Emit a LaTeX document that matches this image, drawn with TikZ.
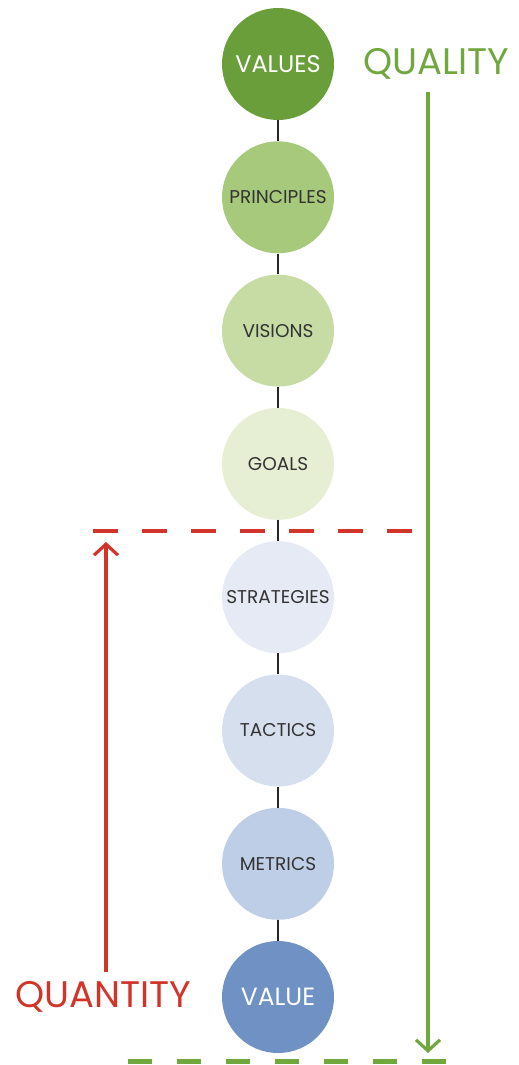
\documentclass[tikz,border=0pt]{standalone}
\usepackage{fontspec}
\setmainfont{Poppins}
\usetikzlibrary{arrows.meta}

\definecolor{qualgreen}{RGB}{112,168,62}
\definecolor{quantred}{RGB}{210,52,42}
\definecolor{c1}{RGB}{106,158,58}
\definecolor{c2}{RGB}{166,201,124}
\definecolor{c3}{RGB}{198,220,164}
\definecolor{c4}{RGB}{230,238,211}
\definecolor{c5}{RGB}{229,234,244}
\definecolor{c6}{RGB}{214,223,238}
\definecolor{c7}{RGB}{191,206,231}
\definecolor{c8}{RGB}{111,145,196}

\tikzset{
  stage/.style={circle, minimum size=112pt, inner sep=0pt, font=\fontsize{18.5}{18.5}\selectfont, text=black!80},
  link/.style={line width=1.6pt, black!85},
  bigword/.style={font=\fontsize{37}{37}\selectfont}
}

\begin{document}
\begin{tikzpicture}[x=1pt,y=-1pt]
\useasboundingbox (0,0) rectangle (519,1065);
% the stages, top to bottom
\node[stage, fill=c1, text=white, font=\fontsize{24}{24}\selectfont] (values) at (278,64) {VALUES};
\node[stage, fill=c2] (principles) at (278,197.3) {PRINCIPLES};
\node[stage, fill=c3] (visions) at (278,330.6) {VISIONS};
\node[stage, fill=c4] (goals) at (278,463.9) {GOALS};
\node[stage, fill=c5] (strategies) at (278,597.2) {STRATEGIES};
\node[stage, fill=c6] (tactics) at (278,730.5) {TACTICS};
\node[stage, fill=c7] (metrics) at (278,863.8) {METRICS};
\node[stage, fill=c8, text=white, font=\fontsize{25}{25}\selectfont] (value) at (278,997) {VALUE};
\draw[link] (values) -- (principles);
\draw[link] (principles) -- (visions);
\draw[link] (visions) -- (goals);
\draw[link] (goals) -- (strategies);
\draw[link] (strategies) -- (tactics);
\draw[link] (tactics) -- (metrics);
\draw[link] (metrics) -- (value);
% quality side
\node[bigword, text=qualgreen] (quality) at (436,64) {QUALITY};
\coordinate (qtop) at (428,92);
\coordinate (qbot) at (428,1053);
\draw[qualgreen, line width=3.2pt, -{Straight Barb[length=11pt,width=24pt,line width=3.2pt]}] (qtop) -- (qbot);
\coordinate (gl) at (128,1061);
\coordinate (gr) at (446,1061);
\draw[qualgreen, line width=5pt, dash pattern=on 24pt off 25pt] (gl) -- (gr);
% quantity side
\node[bigword, text=quantred] (quantity) at (103,997) {QUANTITY};
\coordinate (rbot) at (106,972);
\coordinate (rtop) at (106,542);
\draw[quantred, line width=3.2pt, -{Straight Barb[length=11pt,width=24pt,line width=3.2pt]}] (rbot) -- (rtop);
\coordinate (rl) at (93,531);
\coordinate (rr) at (418,531);
\draw[quantred, line width=4pt, dash pattern=on 25pt off 24pt] (rl) -- (rr);
\end{tikzpicture}
\end{document}
